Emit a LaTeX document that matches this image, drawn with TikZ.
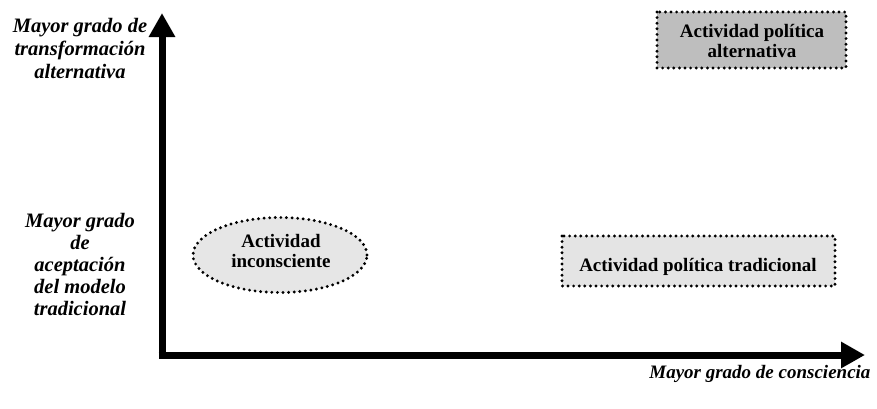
\documentclass[tikz,border=0pt]{standalone}
\usepackage{fontspec}
\setmainfont{Liberation Serif}
\usetikzlibrary{shapes.geometric,arrows.meta}
\begin{document}
\begin{tikzpicture}[x=1pt,y=-1pt,
  dotb/.style={line width=3.2pt,line cap=round,dash pattern=on 0pt off 5.6pt},
  axis/.style={line width=7pt,-{Triangle[length=24pt,width=25pt]}},
  lab/.style={font=\fontsize{20.5}{23}\selectfont\bfseries\itshape,align=center},
  boxt/.style={font=\fontsize{19}{20}\selectfont\bfseries,align=center}]
\useasboundingbox (0,0) rectangle (877,408);
\coordinate (o) at (162,355);
\coordinate (ytop) at (162,13);
\coordinate (xend) at (865,355);
\draw[axis] ([yshift=3.5pt]o) -- (ytop);
\draw[axis] ([xshift=-3.5pt]o) -- (xend);
\node[lab] (yl1) at (80,48) {Mayor grado de\\transformación\\alternativa};
\node[lab,font=\fontsize{20.5}{22}\selectfont\bfseries\itshape] (yl2) at (80,264) {Mayor grado\\de\\aceptación\\del modelo\\tradicional};
\node[lab,anchor=east,font=\fontsize{19}{22}\selectfont\bfseries\itshape] (xl) at (874,374) {Mayor grado de consciencia};
\path[fill={rgb,255:red,190;green,190;blue,190}] (657,12) rectangle (846,68);
\draw[dotb] (657,12) rectangle (846,68);
\node[boxt] (alt) at (752,41) {Actividad política\\alternativa};
\path[fill={rgb,255:red,228;green,228;blue,228}] (562,236) rectangle (835,286);
\draw[dotb] (562,236) rectangle (835,286);
\node[boxt] (trad) at (698,267) {Actividad política tradicional};
\node[ellipse,minimum width=174pt,minimum height=75pt,fill={rgb,255:red,230;green,230;blue,230}] (inc) at (280,255) {};
\draw[dotb] (inc.center) ellipse (87pt and 37.5pt);
\node[boxt] at (281,251) {Actividad\\inconsciente};
\end{tikzpicture}
\end{document}
